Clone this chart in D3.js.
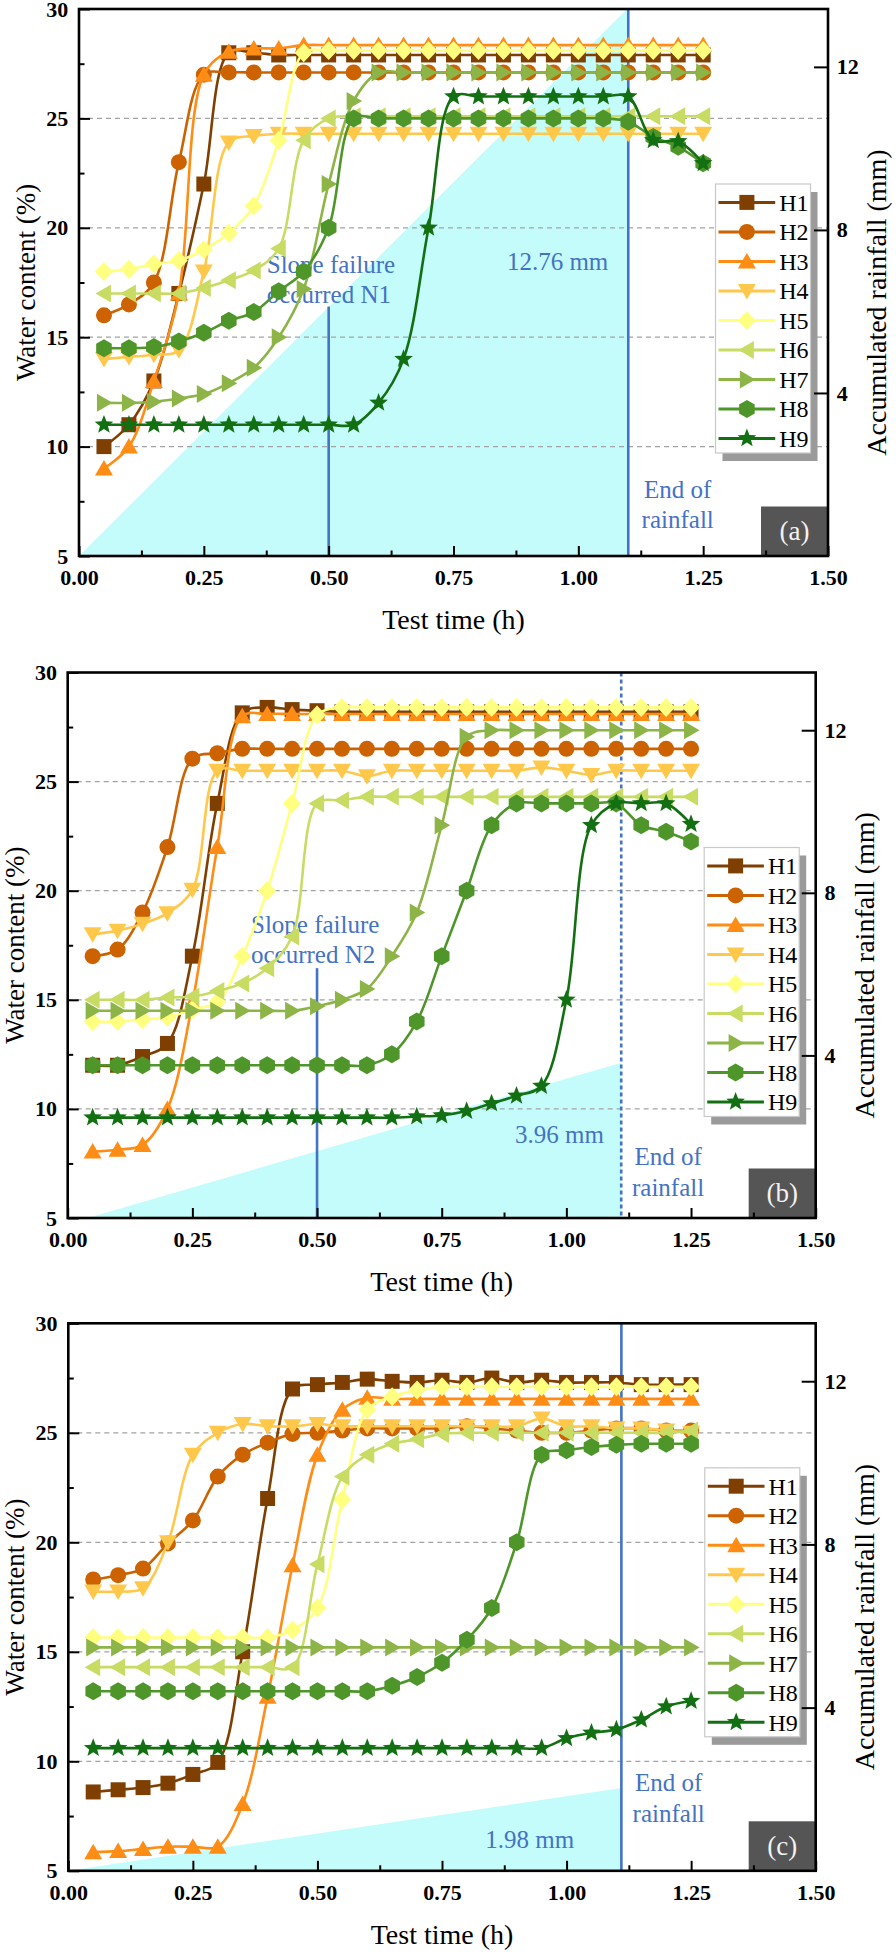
<!DOCTYPE html>
<html><head><meta charset="utf-8">
<script src="https://cdn.jsdelivr.net/npm/d3@7"></script>
<style>body{margin:0;background:#fff;} svg{display:block;} svg text{font-family:"Liberation Serif","Times New Roman",Times,"Nimbus Roman","DejaVu Serif",serif;}</style>
</head><body>
<svg id="chart" width="896" height="1952"></svg>
<script>
// ---------------- DATA ----------------
const times = [0.05,0.10,0.15,0.20,0.25,0.30,0.35,0.40,0.45,0.50,0.55,0.60,0.65,0.70,0.75,0.80,0.85,0.90,0.95,1.00,1.05,1.10,1.15,1.20,1.25];
const seriesNames = ["H1","H2","H3","H4","H5","H6","H7","H8","H9"];

// Panel (a)
const a_H1 = [10,11,13,17,22,28,28,27.9,27.9,27.9,27.9,27.9,27.9,27.9,27.9,27.9,27.9,27.9,27.9,27.9,27.9,27.9,27.9,27.9,27.9];
const a_H2 = [16,16.5,17.5,23,27,27.1,27.1,27.1,27.1,27.1,27.1,27.1,27.1,27.1,27.1,27.1,27.1,27.1,27.1,27.1,27.1,27.1,27.1,27.1,27.1];
const a_H3 = [9,10,13,17,27,28.05,28.2,28.2,28.35,28.35,28.35,28.35,28.35,28.35,28.35,28.35,28.35,28.35,28.35,28.35,28.35,28.35,28.35,28.35,28.35];
const a_H4 = [14,14.1,14.2,14.4,18,23.9,24.2,24.3,24.3,24.3,24.3,24.3,24.3,24.3,24.3,24.3,24.3,24.3,24.3,24.3,24.3,24.3,24.3,24.3,24.3];
const a_H5 = [18,18.1,18.35,18.5,19,19.75,21,24,28,28.1,28.1,28.1,28.1,28.1,28.1,28.1,28.1,28.1,28.1,28.1,28.1,28.1,28.1,28.1,28.1];
const a_H6 = [17,17,17,17,17.25,17.6,18.05,19.05,24,25,25.1,25.1,25.1,25.1,25.1,25.1,25.1,25.1,25.1,25.1,25.1,25.1,25.1,25.1,25.1];
const a_H7 = [12,12,12.05,12.2,12.4,12.9,13.6,15,17.2,22,25.8,27.1,27.1,27.1,27.1,27.1,27.1,27.1,27.1,27.1,27.1,27.1,27.1,27.1,27.1];
const a_H8 = [14.5,14.5,14.55,14.8,15.2,15.75,16.15,17.1,18,20,25,25,25,25,25,25,25,25,25,25,25,24.85,24.15,23.7,22.95];
const a_H9 = [11,11,11,11,11,11,11,11,11,11,11,12,14,20,26,26,26,26,26,26,26,26,24,23.95,22.95];
const a_rain = [[0,0],[1.1,13.45]];

// Panel (b)
const b_H1 = [12,12,12.4,13,17,24,28.15,28.4,28.3,28.25,28.2,28.2,28.2,28.2,28.2,28.2,28.2,28.2,28.2,28.2,28.2,28.2,28.2,28.2,28.2];
const b_H2 = [17,17.3,19,22,26.05,26.3,26.5,26.5,26.5,26.5,26.5,26.5,26.5,26.5,26.5,26.5,26.5,26.5,26.5,26.5,26.5,26.5,26.5,26.5,26.5];
const b_H3 = [8.05,8.13,8.35,10,14.85,22,28,28.1,28.1,28.1,28.1,28.1,28.1,28.1,28.1,28.1,28.1,28.1,28.1,28.1,28.1,28.1,28.1,28.1,28.1];
const b_H4 = [18,18.17,18.48,18.97,20.04,25.5,25.5,25.5,25.5,25.5,25.5,25.25,25.5,25.5,25.5,25.5,25.5,25.5,25.65,25.5,25.3,25.5,25.5,25.5,25.5];
const b_H5 = [14,14,14.1,14.2,14.55,14.9,17,20,24,28.05,28.4,28.4,28.4,28.4,28.4,28.4,28.4,28.4,28.4,28.4,28.4,28.4,28.4,28.4,28.4];
const b_H6 = [15,15,15,15.1,15.15,15.4,15.75,16.45,17.9,24,24.15,24.3,24.3,24.3,24.3,24.3,24.3,24.3,24.3,24.3,24.3,24.3,24.3,24.3,24.3];
const b_H7 = [14.5,14.5,14.5,14.5,14.5,14.5,14.5,14.5,14.5,14.7,15,15.5,17,19,23,27.05,27.35,27.35,27.35,27.35,27.35,27.35,27.35,27.35,27.35];
const b_H8 = [12,12,12,12,12,12,12,12,12,12,12,12,12.5,14,17,20,23,24,24,24,24,24,23,22.7,22.25];
const b_H9 = [9.6,9.6,9.6,9.6,9.6,9.6,9.6,9.6,9.6,9.6,9.6,9.6,9.6,9.65,9.7,9.9,10.25,10.6,11.05,15,23,24,24,24,23.05];
const b_rain = [[0.04,0],[1.11,3.82]];

// Panel (c)
const c_H1 = [8.6,8.7,8.8,9.0,9.4,9.95,15,22,27,27.2,27.3,27.45,27.35,27.3,27.4,27.3,27.5,27.3,27.4,27.3,27.3,27.3,27.2,27.2,27.2];
const c_H2 = [18.3,18.5,18.8,19.95,21,23,24,24.55,24.95,25.0,25.1,25.2,25.2,25.2,25.2,25.3,25.2,25.1,25.0,25.0,25.1,25.2,25.2,25.1,25.1];
const c_H3 = [5.85,5.9,6.0,6.1,6.1,6.1,8.05,12.95,18.95,24,26.05,26.6,26.55,26.55,26.55,26.55,26.55,26.55,26.55,26.55,26.55,26.55,26.55,26.55,26.55];
const c_H4 = [17.75,17.75,17.9,20,24,25,25.4,25.3,25.3,25.4,25.3,25.3,25.3,25.3,25.3,25.3,25.3,25.3,25.65,25.3,25.3,25.2,25.2,25.1,25.0];
const c_H5 = [15.65,15.65,15.65,15.65,15.65,15.65,15.65,15.65,16,17,21.95,26.05,26.65,26.95,27.1,27.1,27.1,27.1,27.1,27.1,27.1,27.1,27.1,27.1,27.1];
const c_H6 = [14.3,14.3,14.3,14.3,14.3,14.3,14.3,14.3,14.3,19,23,24,24.5,24.7,24.95,25,25,25,25,25,25,25,25,25,25.1];
const c_H7 = [15.2,15.2,15.2,15.2,15.2,15.2,15.2,15.2,15.2,15.2,15.2,15.2,15.2,15.2,15.2,15.2,15.2,15.2,15.2,15.2,15.2,15.2,15.2,15.2,15.2];
const c_H8 = [13.2,13.2,13.2,13.2,13.2,13.2,13.2,13.2,13.2,13.2,13.2,13.2,13.45,13.85,14.5,15.55,17,20,24,24.2,24.35,24.45,24.5,24.5,24.5];
const c_H9 = [10.6,10.6,10.6,10.6,10.6,10.6,10.6,10.6,10.6,10.6,10.6,10.6,10.6,10.6,10.6,10.6,10.6,10.6,10.6,11.05,11.3,11.45,11.9,12.5,12.75];
const c_rain = [[0,0],[1.11,2.03]];

// Axes
const xTicks = [0,0.25,0.5,0.75,1.0,1.25,1.5];
const xTickLabels = ["0.00","0.25","0.50","0.75","1.00","1.25","1.50"];
const xMinorTicks = [0.125,0.375,0.625,0.875,1.125,1.375];
const yTicks = [5,10,15,20,25,30];
const yTickLabels = ["5","10","15","20","25","30"];
const yMinorTicks = [7.5,12.5,17.5,22.5,27.5];
const rainTicks = [4,8,12];
const rainTickLabels = ["4","8","12"];
const gridValues = [10,15,20,25];
const xDomain = [0,1.5];
const yDomain = [5,30];
const rainDomain = [0,13.42];

// ---------------- STYLE ----------------
const colors = ["#7f3f00","#cc6200","#ff8c14","#ffc84b","#ffff80","#c8dc64","#8cb446","#4e962a","#127012"];
const markers = ["square","circle","triUp","triDown","diamond","triLeft","triRight","hexagon","star"];
const blue = "#4472c4";

function starPath(R, r){
  let p = "";
  for (let i=0;i<10;i++){
    const a = -Math.PI/2 + i*Math.PI/5;
    const rad = i%2===0 ? R : r;
    p += (i===0?"M":"L") + (rad*Math.cos(a)).toFixed(2) + "," + (rad*Math.sin(a)).toFixed(2);
  }
  return p + "Z";
}
function hexPath(R){
  let p = "";
  for (let i=0;i<6;i++){
    const a = -Math.PI/2 + i*Math.PI/3;
    p += (i===0?"M":"L") + (R*Math.cos(a)).toFixed(2) + "," + (R*Math.sin(a)).toFixed(2);
  }
  return p + "Z";
}
const markerPaths = {
  square: "M-7.5,-7.5H7.5V7.5H-7.5Z",
  circle: "M8,0A8,8,0,1,1,-8,0A8,8,0,1,1,8,0Z",
  triUp: "M0,-8.5L9,7L-9,7Z",
  triDown: "M0,8.5L9,-7L-9,-7Z",
  triLeft: "M-8.5,0L7,-9L7,9Z",
  triRight: "M8.5,0L-7,-9L-7,9Z",
  diamond: "M0,-9.5L9,0L0,9.5L-9,0Z",
  hexagon: hexPath(9),
  star: starPath(9.8, 4.2)
};

const panels = [
  {tag:"(a)", left:79, top:9, width:749, height:547,
   series:[a_H1,a_H2,a_H3,a_H4,a_H5,a_H6,a_H7,a_H8,a_H9], rain:a_rain,
   rainEnd:1.1, dashed:false, failure:{t:0.5, top:16.4}, legendTop:175,
   notes:[["Slope failure",0.376,17.92,"start"],["occurred N1",0.376,16.55,"start"],
          ["12.76 mm",0.857,18.07,"start"],["End of",1.199,7.64,"middle"],["rainfall",1.199,6.27,"middle"]]},
  {tag:"(b)", left:67.7, top:672.5, width:748, height:545.5,
   series:[b_H1,b_H2,b_H3,b_H4,b_H5,b_H6,b_H7,b_H8,b_H9], rain:b_rain,
   rainEnd:1.11, dashed:true, failure:{t:0.5, top:16.45}, legendTop:175,
   notes:[["Slope failure",0.3676,18.05,"start"],["occurred N2",0.3676,16.68,"start"],
          ["3.96 mm",0.897,8.46,"start"],["End of",1.204,7.44,"middle"],["rainfall",1.204,5.99,"middle"]]},
  {tag:"(c)", left:68.3, top:1323.3, width:747.4, height:547.5,
   series:[c_H1,c_H2,c_H3,c_H4,c_H5,c_H6,c_H7,c_H8,c_H9], rain:c_rain,
   rainEnd:1.11, dashed:false, failure:null, legendTop:144.5,
   notes:[["1.98 mm",0.837,6.03,"start"],["End of",1.205,8.66,"middle"],["rainfall",1.205,7.24,"middle"]]}
];

const svg = d3.select("#chart");

panels.forEach((p, pi) => {
  const L = p.left, T = p.top, R = p.left + p.width, B = p.top + p.height;
  const x = d3.scaleLinear().domain(xDomain).range([L, R]);
  const y = d3.scaleLinear().domain(yDomain).range([B, T]);
  const yr = d3.scaleLinear().domain(rainDomain).range([B, T]);
  const g = svg.append("g");

  const clipId = "clip" + pi;
  g.append("clipPath").attr("id", clipId).append("rect")
    .attr("x", L).attr("y", T).attr("width", p.width).attr("height", p.height);

  // rainfall fill
  const area = d3.area().x(d => x(d[0])).y0(yr(0)).y1(d => yr(d[1]));
  g.append("path").datum(p.rain).attr("d", area)
    .attr("fill", "#c4fcfc").attr("clip-path", `url(#${clipId})`);

  // grid
  g.selectAll(".grid").data(gridValues).enter().append("line")
    .attr("x1", L).attr("x2", R).attr("y1", d => y(d)).attr("y2", d => y(d))
    .attr("stroke", "#a3a3a3").attr("stroke-width", 1.2).attr("stroke-dasharray", "5,4");

  // blue vertical lines
  g.append("line").attr("x1", x(p.rainEnd)).attr("x2", x(p.rainEnd)).attr("y1", T).attr("y2", B)
    .attr("stroke", blue).attr("stroke-width", 2.6)
    .attr("stroke-dasharray", p.dashed ? "4,3" : null);
  if (p.failure) {
    g.append("line").attr("x1", x(p.failure.t)).attr("x2", x(p.failure.t))
      .attr("y1", B).attr("y2", y(p.failure.top))
      .attr("stroke", blue).attr("stroke-width", 2.6);
  }

  // annotations
  p.notes.forEach(n => {
    g.append("text").attr("x", x(n[1])).attr("y", y(n[2])).attr("text-anchor", n[3])
      .attr("font-size", 25).attr("fill", blue).text(n[0]);
  });

  // series
  const line = d3.line().x(d => x(d[0])).y(d => y(d[1])).curve(d3.curveCatmullRom.alpha(0.5));
  p.series.forEach((vals, si) => {
    const pts = times.map((t, i) => [t, vals[i]]);
    const sg = g.append("g");
    sg.append("path").datum(pts).attr("d", line).attr("fill", "none")
      .attr("stroke", colors[si]).attr("stroke-width", 2.6);
    sg.selectAll("path.m").data(pts).enter().append("path").attr("class", "m")
      .attr("d", markerPaths[markers[si]])
      .attr("transform", d => `translate(${x(d[0])},${y(d[1])})`)
      .attr("fill", colors[si]);
  });

  // legend
  const lx = L + 636.5, ly = T + p.legendTop, lw = 95, lh = 269;
  g.append("rect").attr("x", lx + 7).attr("y", ly + 8).attr("width", lw).attr("height", lh).attr("fill", "#9a9a9a");
  g.append("rect").attr("x", lx).attr("y", ly).attr("width", lw).attr("height", lh)
    .attr("fill", "#fff").attr("stroke", "#c8c8c8").attr("stroke-width", 1.2);
  seriesNames.forEach((name, si) => {
    const ey = ly + 18.4 + si * 29.5;
    g.append("line").attr("x1", lx + 3).attr("x2", lx + 59.7).attr("y1", ey).attr("y2", ey)
      .attr("stroke", colors[si]).attr("stroke-width", 3);
    g.append("path").attr("d", markerPaths[markers[si]])
      .attr("transform", `translate(${lx + 31.4},${ey})`).attr("fill", colors[si]);
    g.append("text").attr("x", lx + 63.7).attr("y", ey + 8.5)
      .attr("font-size", 24).attr("fill", "#000").text(name);
  });

  // panel tag
  const tw = 67, th = 49.5;
  g.append("rect").attr("x", R - tw).attr("y", B - th).attr("width", tw).attr("height", th).attr("fill", "#555555");
  g.append("text").attr("x", R - tw / 2).attr("y", B - th / 2 + 9).attr("text-anchor", "middle")
    .attr("font-size", 27).attr("fill", "#f2f2f2").text(p.tag);

  // axes
  function styleAxis(sel, fs) {
    sel.select(".domain").remove();
    sel.selectAll(".tick line").attr("stroke", "#000").attr("stroke-width", 2);
    sel.attr("font-family", null).attr("font-size", null);
    sel.selectAll("text").attr("font-size", fs).attr("font-weight", "bold").attr("fill", "#000");
  }
  const gxM = g.append("g").attr("transform", `translate(0,${B})`)
    .call(d3.axisBottom(x).tickValues(xMinorTicks).tickSizeInner(-5.5).tickSizeOuter(0).tickFormat(""));
  styleAxis(gxM, 22);
  const gx = g.append("g").attr("transform", `translate(0,${B})`)
    .call(d3.axisBottom(x).tickValues(xTicks).tickSizeInner(-10).tickSizeOuter(0).tickPadding(13.4)
      .tickFormat((d, i) => xTickLabels[i]));
  styleAxis(gx, 22);
  const gyM = g.append("g").attr("transform", `translate(${L},0)`)
    .call(d3.axisLeft(y).tickValues(yMinorTicks).tickSizeInner(-5.5).tickSizeOuter(0).tickFormat(""));
  styleAxis(gyM, 22);
  const gy = g.append("g").attr("transform", `translate(${L},0)`)
    .call(d3.axisLeft(y).tickValues(yTicks).tickSizeInner(-11).tickSizeOuter(0).tickPadding(10.7)
      .tickFormat((d, i) => yTickLabels[i]));
  styleAxis(gy, 22);
  const gr = g.append("g").attr("transform", `translate(${R},0)`)
    .call(d3.axisRight(yr).tickValues(rainTicks).tickSizeInner(-14).tickSizeOuter(0).tickPadding(8.7)
      .tickFormat((d, i) => rainTickLabels[i]));
  styleAxis(gr, 22);

  // frame
  g.append("rect").attr("x", L).attr("y", T).attr("width", p.width).attr("height", p.height)
    .attr("fill", "none").attr("stroke", "#000").attr("stroke-width", 2.6);

  // titles
  g.append("text").attr("x", (L + R) / 2).attr("y", B + 73).attr("text-anchor", "middle")
    .attr("font-size", 28).attr("fill", "#000").text("Test time (h)");
  g.append("text").attr("transform", `translate(${L - 44},${(T + B) / 2}) rotate(-90)`)
    .attr("text-anchor", "middle").attr("font-size", 27).attr("fill", "#000")
    .text("Water content (%)");
  g.append("text").attr("transform", `translate(${R + 58},${(T + B) / 2 + 20}) rotate(-90)`)
    .attr("text-anchor", "middle").attr("font-size", 28).attr("fill", "#000")
    .text("Accumulated rainfall (mm)");
});
</script>
</body></html>
